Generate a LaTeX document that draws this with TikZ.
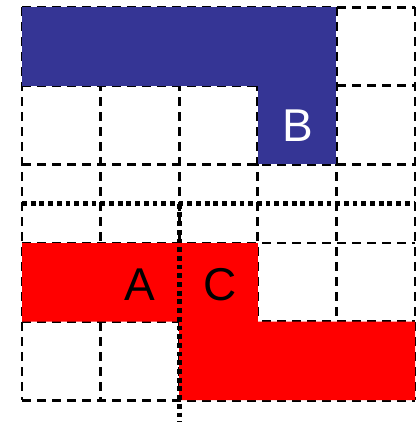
\documentclass[tikz,border=0pt]{standalone}
\usepackage{fontspec}
\setmainfont{Liberation Sans}
\definecolor{blk}{RGB}{53,53,149}
\definecolor{redf}{RGB}{255,0,0}
\begin{document}
\begin{tikzpicture}[x=1pt,y=-1pt,
  gridline/.style={line width=2.8pt,dash pattern=on 9pt off 6pt},
  dotline/.style={line width=4.8pt,dash pattern=on 4.8pt off 3.9pt},
  lbl/.style={font=\fontsize{46}{46}\selectfont,inner sep=0pt}]
\useasboundingbox (0,0) rectangle (417,422);
% grid
\foreach \i in {0,...,5}{
  \draw[gridline] ({22+78.6*\i},7.2) -- ({22+78.6*\i},400.2);
  \draw[gridline] (22,{7.2+78.6*\i}) -- (415,{7.2+78.6*\i});
}
% blue blocks
\fill[blk] (22,7.2) rectangle (336.4,85.6);
\fill[blk] (257.8,86.2) rectangle (336.4,164.4);
% red blocks
\fill[redf] (22,243) -- (257.8,243) -- (257.8,321.6) -- (415,321.6) -- (415,400.2)
  -- (179.2,400.2) -- (179.2,321.6) -- (22,321.6) -- cycle;
% dotted lines
\coordinate (hl) at (22,203.7);
\coordinate (hr) at (415,203.7);
\coordinate (vt) at (179.2,203.7);
\coordinate (vb) at (179.2,422);
\draw[dotline] (hl) -- (hr);
\draw[dotline] (vt) -- (vb);
% labels
\node[lbl,text=white] (B) at (297.5,126) {B};
\node[lbl] (A) at (140,285) {A};
\node[lbl] (C) at (220,285) {C};
\end{tikzpicture}
\end{document}
